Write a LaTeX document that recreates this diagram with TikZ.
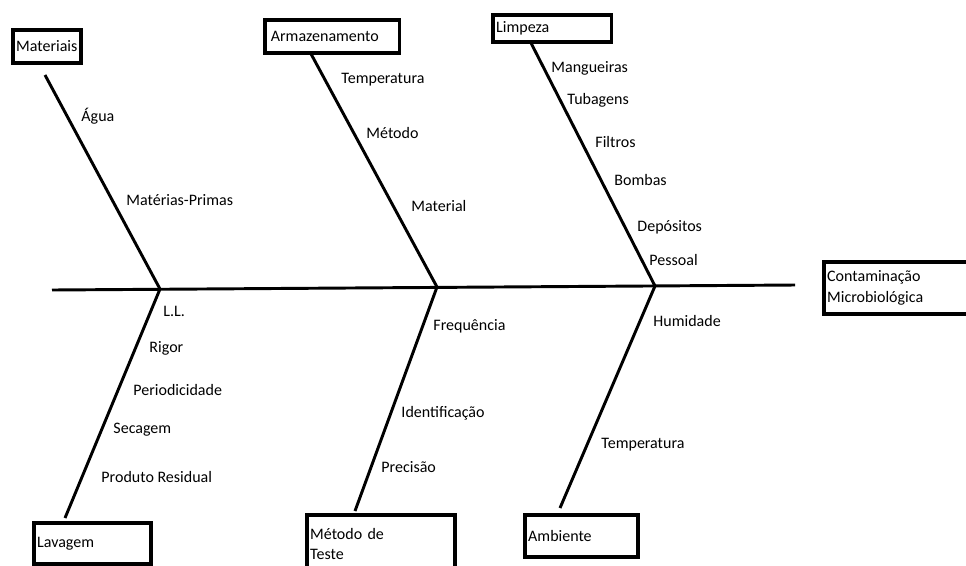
\documentclass[tikz,border=0pt]{standalone}
\usepackage{fontspec}
\setmainfont{Carlito}
\begin{document}
\begin{tikzpicture}[x=0.75pt,y=-0.75pt,line width=2.2pt,
  cause/.style={draw,line width=2.8pt,anchor=north west,align=left,inner xsep=2.5pt,inner ysep=0pt,font=\fontsize{12}{15.5}\selectfont},
  item/.style={anchor=west,inner sep=0pt,font=\fontsize{12}{14}\selectfont}]

  \useasboundingbox (0,0) rectangle (966,565);

  % effect and causes
  \node[cause, text width=104pt, minimum height=39pt] (effect) at (822,260) {Contaminação\\Microbiológica};
  \node[cause, text width=46pt, minimum height=24.75pt] (mat) at (11,28) {Materiais};
  \node[cause, text width=92pt, minimum height=24.75pt, inner xsep=4.5pt] (arm) at (263,18) {Armazenamento};
  \node[cause, text width=84pt, minimum height=20.25pt] (limp) at (491,13) {Limpeza};
  \node[cause, text width=83pt, minimum height=30.75pt] (lav) at (32,521) {Lavagem};
  \node[cause, text width=106pt, minimum height=43.5pt] (met) at (305,513) {Método de\\Teste};
  \node[cause, text width=80pt, minimum height=31.5pt] (amb) at (523,513) {Ambiente};

  % spine
  \coordinate (tail) at (52,290);
  \coordinate (head) at (795,285);
  \coordinate (j1) at (160,289);
  \coordinate (j2) at (437,287);
  \coordinate (j3) at (655,286);
  \draw (tail) -- (head);

  % bones
  \coordinate (mat b) at (45,75);
  \coordinate (arm b) at (310,52);
  \coordinate (limp b) at (530,41);
  \coordinate (lav b) at (65,518);
  \coordinate (met b) at (355,511);
  \coordinate (amb b) at (560,508);
  \draw (mat b) -- (j1);
  \draw (arm b) -- (j2);
  \draw (limp b) -- (j3);
  \draw (lav b) -- (j1);
  \draw (met b) -- (j2);
  \draw (amb b) -- (j3);

  % Materiais
  \node[item] (agua) at (80,116) {Água};
  \node[item] (mprim) at (125,200) {Matérias-Primas};
  % Armazenamento
  \node[item] (atemp) at (340,80) {Temperatura};
  \node[item] (ametodo) at (365,133) {Método};
  \node[item] (amaterial) at (410,206) {Material};
  % Limpeza
  \node[item] (mang) at (550,68) {Mangueiras};
  \node[item] (tub) at (566,100) {Tubagens};
  \node[item] (filt) at (594,142) {Filtros};
  \node[item] (bomb) at (613,180) {Bombas};
  \node[item] (depo) at (636,227) {Depósitos};
  \node[item] (pess) at (648,260) {Pessoal};
  % Lavagem
  \node[item] (ll) at (162,311) {L.L.};
  \node[item] (rigor) at (148,348) {Rigor};
  \node[item] (perio) at (132,390) {Periodicidade};
  \node[item] (secag) at (112,430) {Secagem};
  \node[item] (resid) at (100,477) {Produto Residual};
  % Metodo de Teste
  \node[item] (freq) at (432,326) {Frequência};
  \node[item] (ident) at (400,413) {Identificação};
  \node[item] (prec) at (380,467) {Precisão};
  % Ambiente
  \node[item] (humid) at (652,321) {Humidade};
  \node[item] (btemp) at (600,445) {Temperatura};

\end{tikzpicture}
\end{document}
